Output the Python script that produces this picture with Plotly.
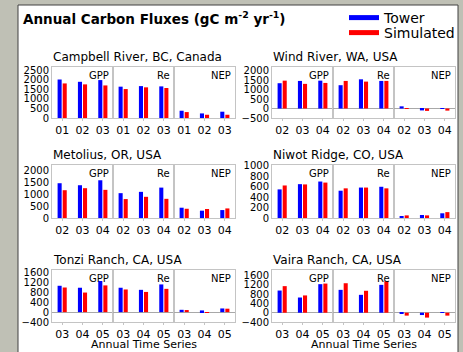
import plotly.graph_objects as go

W, H = 463, 352

sites = ["Campbell River, BC, Canada", "Wind River, WA, USA",
         "Metolius, OR, USA", "Niwot Ridge, CO, USA",
         "Tonzi Ranch, CA, USA", "Vaira Ranch, CA, USA"]
years = [["01", "02", "03"], ["02", "03", "04"], ["02", "03", "04"],
         ["02", "03", "04"], ["03", "04", "05"], ["03", "04", "05"]]
flux_names = ["GPP", "Re", "NEP"]

tower_gpp = [[2015, 1895, 1985], [1335, 1455, 1470], [1470, 1385, 1595],
             [545, 645, 695], [1070, 990, 1265], [955, 655, 1230]]
sim_gpp = [[1810, 1760, 1705], [1470, 1300, 1350], [1175, 1260, 1190],
           [620, 640, 675], [1000, 795, 1085], [1145, 745, 1255]]
tower_re = [[1640, 1670, 1655], [1230, 1540, 1455], [1050, 1105, 1285],
            [520, 580, 595], [990, 905, 1125], [985, 770, 1200]]
sim_re = [[1515, 1605, 1570], [1455, 1420, 1455], [800, 895, 810],
          [565, 580, 565], [920, 820, 945], [1270, 945, 1355]]
tower_nep = [[380, 240, 330], [115, -100, -15], [435, 310, 335],
             [25, 57, 90], [95, 70, 150], [-55, -100, 20]]
sim_nep = [[310, 170, 170], [-10, -125, -110], [390, 380, 405],
           [50, 50, 112], [85, -35, 140], [-125, -210, -125]]

y_ranges = [[0, 2670], [-500, 2190], [0, 2240], [0, 1010], [-400, 1710], [-400, 1840]]
y_ticks = [[0, 500, 1000, 1500, 2000, 2500],
           [-500, 0, 500, 1000, 1500, 2000],
           [0, 500, 1000, 1500, 2000],
           [0, 200, 400, 600, 800, 1000],
           [-400, 0, 400, 800, 1200, 1600],
           [-400, 0, 400, 800, 1200, 1600]]

tower_all = [tower_gpp, tower_re, tower_nep]
sim_all = [sim_gpp, sim_re, sim_nep]

FONT = "DejaVu Sans"
BOX = "#c4c4c4"
BLUE = "#0000ff"
RED = "#ff0000"

# layout geometry in pixels
col_x = [(52, 235), (272, 455)]
row_y = [(67, 118), (165, 218), (270, 322)]

def px(x):
    return x / W

def py(y):
    return 1 - y / H

fig = go.Figure()
layout = {}
annotations = []

for p in range(6):
    r, c = p // 2, p % 2
    x0, x1 = col_x[c]
    y0, y1 = row_y[r]
    sw = (x1 - x0) / 3
    for s in range(3):
        i = p * 3 + s + 1
        xn = "x" if i == 1 else f"x{i}"
        yn = "y" if i == 1 else f"y{i}"
        xk = "xaxis" if i == 1 else f"xaxis{i}"
        yk = "yaxis" if i == 1 else f"yaxis{i}"
        layout[xk] = dict(
            domain=[px(x0 + s * sw), px(x0 + (s + 1) * sw)],
            anchor=yn, type="category", range=[-0.5, 2.5],
            showline=True, mirror=True, linecolor=BOX, linewidth=1,
            showgrid=False, zeroline=False, automargin=False,
            ticks="outside", ticklen=2, tickcolor=BOX,
            tickfont=dict(family=FONT, size=11, color="black"),
            fixedrange=True,
        )
        ydict = dict(
            domain=[py(y1), py(y0)], anchor=xn, range=y_ranges[p],
            showline=True, mirror=True, linecolor=BOX, linewidth=1,
            showgrid=False, zeroline=True, zerolinecolor="#a8a8a8", zerolinewidth=1,
            tickvals=y_ticks[p], ticks="", automargin=False,
            tickfont=dict(family=FONT, size=10, color="black"),
            fixedrange=True,
        )
        if s > 0:
            ydict["matches"] = "y" if p == 0 else f"y{p * 3 + 1}"
            ydict["showticklabels"] = False
        layout[yk] = ydict

        fig.add_trace(go.Bar(x=years[p], y=tower_all[s][p], marker_color=BLUE,
                             marker_line_width=0, xaxis=xn, yaxis=yn,
                             showlegend=False, name="Tower"))
        fig.add_trace(go.Bar(x=years[p], y=sim_all[s][p], marker_color=RED,
                             marker_line_width=0, xaxis=xn, yaxis=yn,
                             showlegend=False, name="Simulated"))
        annotations.append(dict(
            text=flux_names[s], xref=f"{xn} domain", yref=f"{yn} domain",
            x=0.96, y=0.99, xanchor="right", yanchor="top", showarrow=False,
            font=dict(family=FONT, size=10, color="black")))

    annotations.append(dict(
        text=sites[p], xref="paper", yref="paper", x=px(x0 - 1), y=py(y0 - 10),
        xanchor="left", yanchor="middle", showarrow=False,
        font=dict(family=FONT, size=12, color="black")))

for c in range(2):
    x0, x1 = col_x[c]
    annotations.append(dict(
        text="Annual Time Series", xref="paper", yref="paper",
        x=px((x0 + x1) / 2), y=py(344.5), xanchor="center", yanchor="middle",
        showarrow=False, font=dict(family=FONT, size=11, color="black")))

annotations.append(dict(
    text="<b>Annual Carbon Fluxes (gC m<sup>-2</sup> yr<sup>-1</sup>)</b>",
    xref="paper", yref="paper", x=px(21), y=py(18), xanchor="left",
    yanchor="middle", showarrow=False,
    font=dict(family=FONT, size=13.5, color="black")))

# legend entries (one legend per entry for exact placement)
fig.add_trace(go.Scatter(x=[None], y=[None], mode="lines", name="Tower",
                         line=dict(color=BLUE, width=5), xaxis="x", yaxis="y",
                         legend="legend"))
fig.add_trace(go.Scatter(x=[None], y=[None], mode="lines", name="Simulated",
                         line=dict(color=RED, width=5), xaxis="x", yaxis="y",
                         legend="legend2"))

shapes = [dict(type="rect", xref="paper", yref="paper",
               x0=px(18), x1=px(458), y0=-0.2, y1=py(5),
               fillcolor="white", line=dict(color="#404040", width=1),
               layer="below")]

leg_common = dict(xanchor="left", yanchor="middle", bgcolor="rgba(0,0,0,0)",
                  font=dict(family=FONT, size=14, color="black"), itemwidth=30)

fig.update_layout(
    template="none",
    width=W, height=H, margin=dict(l=0, r=0, t=0, b=0, autoexpand=False),
    paper_bgcolor="rgb(191,192,181)", plot_bgcolor="white",
    barmode="group", bargap=0.5, bargroupgap=0.2,
    font=dict(family=FONT, color="black"),
    showlegend=True,
    legend=dict(x=px(344), y=py(18), **leg_common),
    legend2=dict(x=px(344), y=py(33), **leg_common),
    annotations=annotations, shapes=shapes,
    **layout,
)

fig.write_html("out.html", config={"displayModeBar": False},
               post_script="document.body.style.margin='0';document.body.style.padding='0';")
